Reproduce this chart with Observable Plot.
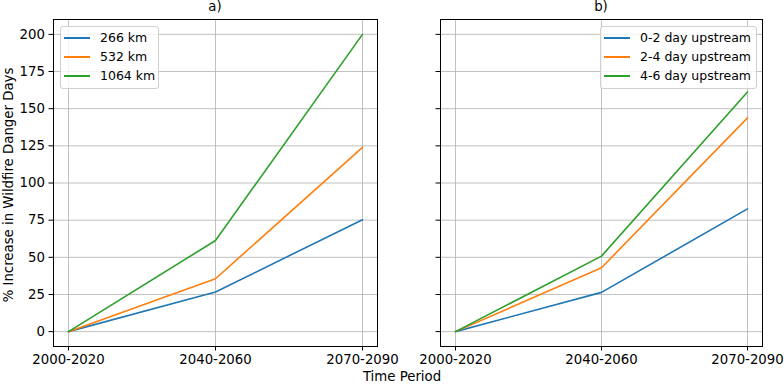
<!DOCTYPE html>
<html>
<head>
<meta charset="utf-8">
<script src="https://cdn.jsdelivr.net/npm/d3@7"></script>
<script src="https://cdn.jsdelivr.net/npm/@observablehq/plot@0.6"></script>
<style>
  html, body { margin: 0; padding: 0; background: #fff; }
  #wrap { position: relative; width: 784px; height: 385px; overflow: hidden; font-family: "DejaVu Sans", sans-serif; color: #000; }
  #wrap svg { position: absolute; top: 0; }
  .txt { position: absolute; font-size: 13.3px; white-space: nowrap; line-height: 1; }
  .legend { position: absolute; border: 1px solid #d0d0d0; border-radius: 3px; background: rgba(255,255,255,0.8); padding: 1px 0 3px 0; box-sizing: border-box; }
  .legend .row { display: flex; align-items: center; height: 19px; font-size: 12.5px; }
  .legend .sw { width: 26px; height: 0; border-top: 2px solid; margin-left: 3px; margin-right: 10px; }
</style>
</head>
<body>
<div id="wrap"></div>
<script>
const periods = ["2000-2020", "2040-2060", "2070-2090"];
const yTicks = [0, 25, 50, 75, 100, 125, 150, 175, 200];
const colors = ["#1f77b4", "#ff7f0e", "#2ca02c"];

const seriesA = ["266 km", "532 km", "1064 km"];
const a266 = [0, 26.7, 75.3];
const a532 = [0, 35.6, 124.0];
const a1064 = [0, 61.3, 200.0];

const seriesB = ["0-2 day upstream", "2-4 day upstream", "4-6 day upstream"];
const b02 = [0, 26.4, 82.6];
const b24 = [0, 43.0, 143.8];
const b46 = [0, 50.8, 161.2];

function rows(names, lists) {
  const out = [];
  names.forEach((s, i) => lists[i].forEach((v, j) => out.push({series: s, period: periods[j], value: v})));
  return out;
}

const dataA = rows(seriesA, [a266, a532, a1064]);
const dataB = rows(seriesB, [b02, b24, b46]);

function panel(data, names, left, width, mL, mR, showY) {
  const chart = Plot.plot({
    width, height: 385,
    marginLeft: mL, marginRight: mR, marginTop: 19, marginBottom: 39,
    style: {fontFamily: "DejaVu Sans, sans-serif", fontSize: "13.3px", color: "#000", background: "transparent", overflow: "visible"},
    x: {type: "point", domain: periods, padding: 0.1},
    y: {domain: [-10, 210]},
    color: {domain: names, range: colors},
    marks: [
      Plot.gridX(periods, {stroke: "#b0b0b0", strokeOpacity: 1, strokeWidth: 0.8}),
      Plot.gridY(yTicks, {stroke: "#b0b0b0", strokeOpacity: 1, strokeWidth: 0.8}),
      Plot.line(data, {x: "period", y: "value", stroke: "series", z: "series", strokeWidth: 1.6}),
      Plot.axisX(periods, {tickSize: 4.5, tickPadding: 4, label: null, stroke: "#000"}),
      Plot.axisY(yTicks, {tickSize: 4.5, tickPadding: 4, label: null, stroke: "#000", tickFormat: showY ? (d => d) : (() => "")}),
      Plot.frame({stroke: "#000", strokeWidth: 1})
    ]
  });
  chart.style.left = left + "px";
  return chart;
}

const wrap = document.getElementById("wrap");
wrap.appendChild(panel(dataA, seriesA, 0, 390, 53, 13, true));
wrap.appendChild(panel(dataB, seriesB, 390, 394, 50, 22, false));

function text(str, x, y, extra) {
  const d = document.createElement("div");
  d.className = "txt";
  d.textContent = str;
  d.style.left = x + "px";
  d.style.top = y + "px";
  if (extra) Object.assign(d.style, extra);
  wrap.appendChild(d);
  return d;
}
text("a)", 215, 7, {transform: "translate(-50%,-50%)"});
text("b)", 601, 7, {transform: "translate(-50%,-50%)"});
text("Time Period", 402, 377, {transform: "translate(-50%,-50%)"});
text("% Increase in Wildfire Danger Days", 9, 185, {transform: "translate(-50%,-50%) rotate(-90deg)"});

function legend(names, x, y, w) {
  const box = document.createElement("div");
  box.className = "legend";
  box.style.left = x + "px";
  box.style.top = y + "px";
  box.style.width = w + "px";
  names.forEach((n, i) => {
    const r = document.createElement("div");
    r.className = "row";
    const sw = document.createElement("span");
    sw.className = "sw";
    sw.style.borderTopColor = colors[i];
    const t = document.createElement("span");
    t.textContent = n;
    r.appendChild(sw); r.appendChild(t);
    box.appendChild(r);
  });
  wrap.appendChild(box);
}
legend(seriesA, 60, 26, 99);
legend(seriesB, 600, 26, 157);
</script>
</body>
</html>
